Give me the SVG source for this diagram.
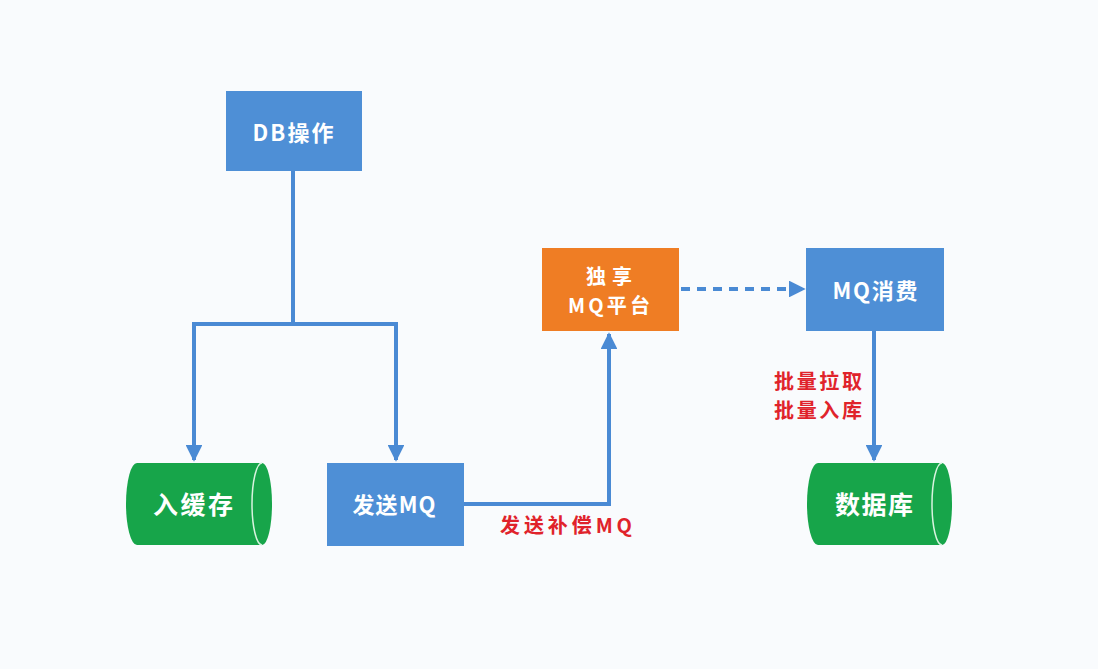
<svg xmlns="http://www.w3.org/2000/svg" width="1098" height="669" viewBox="0 0 1098 669">
<defs>
<style>
.box{fill:#4e8fd6;}
.orange{fill:#ef7d24;}
.cyl{fill:#17a54a;}
.cylin{fill:none;stroke:#d8f3df;stroke-width:1.5;}
.lbl{font-family:"Noto Sans CJK SC","Noto Sans",sans-serif;font-weight:bold;fill:#ffffff;text-anchor:middle;dominant-baseline:central;}
.red{font-family:"Noto Sans CJK SC","Noto Sans",sans-serif;font-weight:bold;fill:#e0232b;font-size:20px;dominant-baseline:central;}
.ln{fill:none;stroke:#4a8ad4;stroke-width:4;}
.dash{fill:none;stroke:#4a8ad4;stroke-width:4;stroke-dasharray:9 7;}
</style>
<marker id="arr" viewBox="0 0 10 10" refX="9" refY="5" markerWidth="4.2" markerHeight="4.2" orient="auto" markerUnits="strokeWidth">
<path d="M0,0 L10,5 L0,10 z" fill="#4a8ad4"/>
</marker>
</defs>
<rect width="1098" height="669" fill="#f9fbfd"/>
<g id="connectors">
<path class="ln" d="M293,171 V324"/>
<path class="ln" d="M194,324 H396"/>
<path class="ln" d="M194,322 V460" marker-end="url(#arr)"/>
<path class="ln" d="M396,322 V460" marker-end="url(#arr)"/>
<path class="ln" d="M464,504 H609 V334" marker-end="url(#arr)"/>
<path class="dash" d="M681,289 H804" marker-end="url(#arr)"/>
<path class="ln" d="M874,331 V460" marker-end="url(#arr)"/>
<text class="red" x="500" y="524" textLength="132" lengthAdjust="spacing">发送补偿MQ</text>
<text class="red" x="774" y="380" textLength="88" lengthAdjust="spacing">批量拉取</text>
<text class="red" x="774" y="409" textLength="88" lengthAdjust="spacing">批量入库</text>
</g>
<g id="db-op">
<rect class="box" x="226" y="91" width="136" height="80"/>
<text class="lbl" x="293" y="131" font-size="22" textLength="81" lengthAdjust="spacing">DB操作</text>
</g>
<g id="cache">
<path class="cyl" d="M137,463 H262 A10,41 0 0 1 262,545 H137 A11,41 0 0 1 137,463 Z"/>
<path class="cylin" d="M262,463 A10,41 0 0 0 262,545"/>
<text class="lbl" x="193" y="503" font-size="25" textLength="80" lengthAdjust="spacing">入缓存</text>
</g>
<g id="send-mq">
<rect class="box" x="327" y="463" width="137" height="83"/>
<text class="lbl" x="394" y="503" font-size="22" textLength="83" lengthAdjust="spacing">发送MQ</text>
</g>
<g id="mq-platform">
<rect class="orange" x="542" y="248" width="137" height="83"/>
<text class="lbl" x="609" y="275" font-size="20" textLength="46" lengthAdjust="spacing">独享</text>
<text class="lbl" x="609" y="304" font-size="20" textLength="82" lengthAdjust="spacing">MQ平台</text>
</g>
<g id="mq-consume">
<rect class="box" x="806" y="248" width="138" height="83"/>
<text class="lbl" x="875" y="289" font-size="22" textLength="85" lengthAdjust="spacing">MQ消费</text>
</g>
<g id="database">
<path class="cyl" d="M818,463 H942 A10,41 0 0 1 942,545 H818 A11,41 0 0 1 818,463 Z"/>
<path class="cylin" d="M942,463 A10,41 0 0 0 942,545"/>
<text class="lbl" x="874" y="503" font-size="25" textLength="78" lengthAdjust="spacing">数据库</text>
</g>
</svg>
